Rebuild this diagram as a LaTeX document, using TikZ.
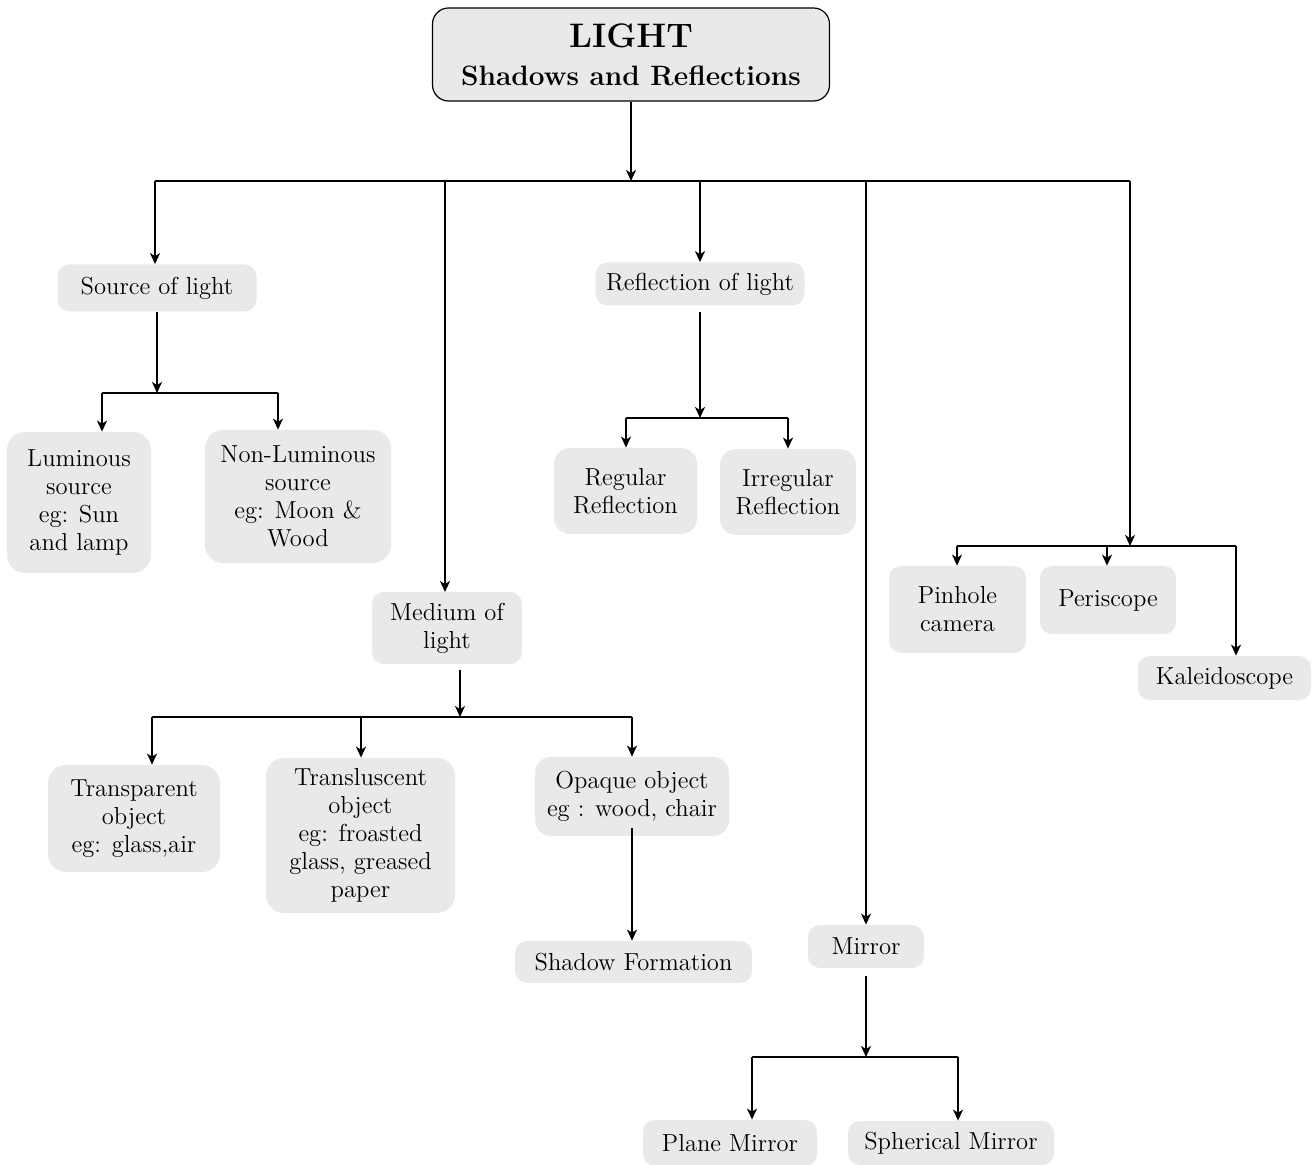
\documentclass[tikz,border=0pt]{standalone}
\usepackage{tikz}
\usetikzlibrary{arrows.meta}
\definecolor{boxgray}{RGB}{233,233,233}

\tikzset{
    box/.style={fill=boxgray, rounded corners=6pt, align=center, inner sep=0pt,
        font=\fontsize{12.3}{14}\selectfont},
    arr/.style={-{Stealth[length=5.5pt, width=5pt, inset=1.6pt]}, line width=0.9pt},
    bar/.style={line width=0.9pt}
}

\begin{document}
\begin{tikzpicture}[x=0.5pt, y=-0.5pt]
    \useasboundingbox (0,0) rectangle (1312,1165);
    % Title
    \node[box, draw=black, line width=0.6pt, rounded corners=8pt, minimum width=198.5pt, minimum height=46.5pt] (title) at (631,54.5)
        {\fontsize{17}{20}\bfseries LIGHT\\[5pt]\fontsize{14}{20}\bfseries Shadows and Reflections};
    % First level
    \node[box, minimum width=99.5pt, minimum height=23.5pt] (src) at (157,288) {Source of light};
    \node[box, minimum width=104.5pt, minimum height=21.5pt] (refl) at (700,284) {Reflection of light};
    \node[box, minimum width=75pt, minimum height=36pt] (med) at (447,628) {Medium of\\light};
    \node[box, minimum width=58pt, minimum height=21.5pt] (mir) at (866,946.5) {Mirror};
    % Source of light
    \node[box, rounded corners=9pt, minimum width=72pt, minimum height=70.5pt] (lum) at (79,502.5) {Luminous\\source\\eg: Sun\\and lamp};
    \node[box, rounded corners=9pt, minimum width=93pt, minimum height=66.5pt] (nonlum) at (298,496.5) {Non-Luminous\\source\\eg: Moon \&\\Wood};
    % Reflection of light
    \node[box, rounded corners=8pt, minimum width=71.5pt, minimum height=43pt] (reg) at (625.5,491) {Regular\\Reflection};
    \node[box, rounded corners=8pt, minimum width=68pt, minimum height=43pt] (irreg) at (788,492) {Irregular\\Reflection};
    % Uses of reflection
    \node[box, minimum width=68.5pt, minimum height=43.5pt] (pin) at (957.5,609.5) {Pinhole\\camera};
    \node[box, minimum width=68pt, minimum height=34pt] (peri) at (1108,600) {Periscope};
    \node[box, minimum width=86.5pt, minimum height=22pt] (kal) at (1224.5,678) {Kaleidoscope};
    % Medium of light
    \node[box, rounded corners=9pt, minimum width=86pt, minimum height=53.5pt] (transp) at (134,818.5) {Transparent\\object\\eg: glass,air};
    \node[box, rounded corners=9pt, minimum width=94.5pt, minimum height=77.5pt] (transl) at (360.5,835.5) {Transluscent\\object\\eg: froasted\\glass, greased\\paper};
    \node[box, rounded corners=8pt, minimum width=97pt, minimum height=39.5pt] (opq) at (632,796.5) {Opaque object\\eg : wood, chair};
    \node[box, minimum width=118.5pt, minimum height=21pt] (shad) at (633.5,962) {Shadow Formation};
    % Mirror
    \node[box, minimum width=87pt, minimum height=23pt] (plane) at (730,1143) {Plane Mirror};
    \node[box, minimum width=103pt, minimum height=22pt] (sph) at (951,1143) {Spherical Mirror};

    % Main branches
    \coordinate (topL) at (155,181);
    \coordinate (topR) at (1130,181);
    \draw[bar] (topL) -- (topR);
    \draw[arr] (title.south) -- (title.south |- topL);
    \draw[arr] (topL) -- (topL |- src.north);
    \draw[arr] (refl.north |- topL) -- (refl.north);
    \draw[arr] (445,181) -- (445,592);
    \draw[arr] (mir.north |- topL) -- (mir.north);
    % Source of light branches
    \coordinate (srcbar) at (157,393);
    \coordinate (lumtop) at (102,393);
    \coordinate (nontop) at (278,393);
    \draw[arr] (srcbar |- src.south) -- (srcbar);
    \draw[bar] (lumtop) -- (nontop);
    \draw[arr] (lumtop) -- (lumtop |- lum.north);
    \draw[arr] (nontop) -- (nontop |- nonlum.north);
    % Reflection branches
    \coordinate (reflbar) at (700,418);
    \coordinate (regtop) at (626,418);
    \coordinate (irrtop) at (788,418);
    \draw[arr] ([yshift=-3pt]refl.south) -- (reflbar);
    \draw[bar] (regtop) -- (irrtop);
    \draw[arr] (regtop) -- (regtop |- reg.north);
    \draw[arr] (irrtop) -- (irrtop |- irreg.north);
    % Uses branches
    \coordinate (usebar) at (1130,546);
    \coordinate (pintop) at (957,546);
    \coordinate (peritop) at (1107,546);
    \coordinate (kaltop) at (1236,546);
    \draw[arr] (topR) -- (usebar);
    \draw[bar] (pintop) -- (kaltop);
    \draw[arr] (pintop) -- (pintop |- pin.north);
    \draw[arr] (peritop) -- (peritop |- peri.north);
    \draw[arr] (kaltop) -- (kaltop |- kal.north);
    % Medium branches
    \coordinate (medbar) at (460,717);
    \coordinate (trptop) at (152,717);
    \coordinate (trltop) at (361,717);
    \coordinate (opqtop) at (632,717);
    \draw[arr] (460,670) -- (medbar);
    \draw[bar] (trptop) -- (opqtop);
    \draw[arr] (trptop) -- (trptop |- transp.north);
    \draw[arr] (trltop) -- (trltop |- transl.north);
    \draw[arr] (opqtop) -- (opq.north);
    \draw[arr] ([yshift=4pt]opq.south) -- (opq.south |- shad.north);
    % Mirror branches
    \coordinate (mirbar) at (866,1057);
    \coordinate (pltop) at (752,1057);
    \coordinate (sphtop) at (958,1057);
    \draw[arr] ([yshift=-4pt]mir.south) -- (mirbar);
    \draw[bar] (pltop) -- (sphtop);
    \draw[arr] (pltop) -- (pltop |- plane.north);
    \draw[arr] (sphtop) -- (sphtop |- sph.north);
\end{tikzpicture}
\end{document}
